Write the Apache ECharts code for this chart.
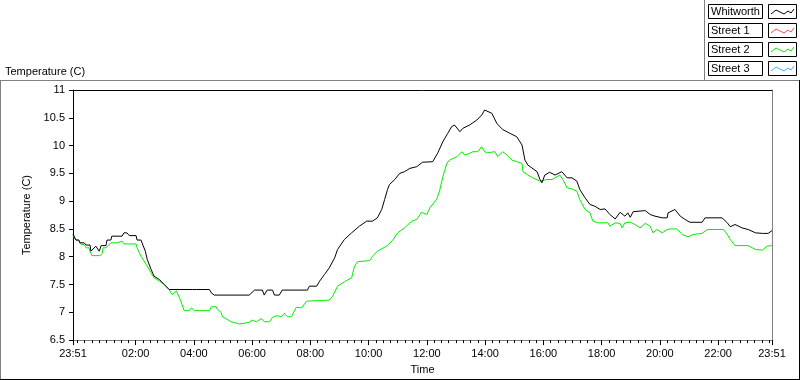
<!DOCTYPE html>
<html>
<head>
<meta charset="utf-8">
<script src="https://cdn.jsdelivr.net/npm/echarts@6/dist/echarts.min.js"></script>
<style>
  html, body { margin: 0; padding: 0; background: #fff; }
  #chart { width: 800px; height: 380px; }
</style>
</head>
<body>
<div id="chart"></div>
<script>
// minutes since 23:51, temperature (C)
const whitworth = [
  [0, 8.41], [4, 8.41], [6, 8.30], [12, 8.30], [14, 8.25], [23, 8.25], [27, 8.21], [35, 8.21],
  [37, 8.10], [41, 8.10], [47, 8.19], [54, 8.10], [58, 8.20], [68, 8.20], [70, 8.30], [78, 8.30],
  [80, 8.37], [101, 8.37], [105, 8.43], [111, 8.43], [116, 8.38], [130, 8.38], [132, 8.30], [140, 8.30],
  [144, 8.21], [149, 8.10], [153, 7.95], [161, 7.77], [167, 7.65], [178, 7.59], [188, 7.50], [198, 7.41],
  [246, 7.41], [250, 7.38], [254, 7.41], [281, 7.41], [285, 7.35], [291, 7.31], [363, 7.31], [367, 7.34],
  [374, 7.40], [390, 7.40], [394, 7.31], [400, 7.40], [411, 7.40], [415, 7.31], [425, 7.31], [431, 7.40],
  [483, 7.40], [487, 7.47], [502, 7.47], [508, 7.56], [518, 7.68], [528, 7.80], [539, 7.98], [545, 8.13],
  [559, 8.31], [574, 8.43], [590, 8.55], [605, 8.64], [617, 8.64], [627, 8.70], [636, 8.85], [642, 9.03],
  [648, 9.21], [652, 9.30], [663, 9.39], [673, 9.50], [683, 9.53], [694, 9.59], [708, 9.62], [720, 9.70],
  [741, 9.71], [751, 9.86], [762, 10.07], [772, 10.22], [780, 10.34], [786, 10.37], [797, 10.25], [803, 10.31],
  [817, 10.37], [832, 10.46], [842, 10.55], [848, 10.64], [863, 10.58], [873, 10.40], [885, 10.29], [900, 10.22],
  [914, 10.16], [925, 10.01], [931, 9.74], [937, 9.65], [956, 9.53], [962, 9.39], [966, 9.33], [972, 9.47],
  [982, 9.52], [993, 9.47], [1007, 9.53], [1018, 9.42], [1028, 9.42], [1038, 9.36], [1044, 9.21], [1055, 9.06],
  [1065, 8.94], [1075, 8.91], [1086, 8.85], [1096, 8.86], [1106, 8.76], [1117, 8.68], [1127, 8.80], [1137, 8.73],
  [1143, 8.79], [1148, 8.71], [1154, 8.81], [1179, 8.83], [1189, 8.76], [1199, 8.73], [1214, 8.70], [1224, 8.70],
  [1226, 8.79], [1240, 8.85], [1251, 8.73], [1261, 8.67], [1271, 8.62], [1296, 8.62], [1302, 8.70], [1337, 8.70],
  [1348, 8.61], [1354, 8.54], [1364, 8.58], [1378, 8.52], [1391, 8.49], [1406, 8.43], [1420, 8.42], [1432, 8.42],
  [1440, 8.47]
];

const street2 = [
  [0, 8.37], [4, 8.37], [6, 8.30], [12, 8.30], [17, 8.22], [23, 8.22], [27, 8.16], [33, 8.16],
  [35, 8.10], [39, 8.02], [56, 8.02], [60, 8.06], [62, 8.16], [68, 8.16], [72, 8.19], [78, 8.25],
  [91, 8.25], [95, 8.28], [101, 8.28], [105, 8.23], [130, 8.23], [132, 8.16], [140, 8.01], [151, 7.86],
  [161, 7.71], [167, 7.62], [178, 7.56], [188, 7.50], [198, 7.41], [204, 7.32], [213, 7.38], [215, 7.38],
  [221, 7.23], [229, 7.03], [240, 7.03], [244, 7.08], [250, 7.03], [264, 7.03], [266, 7.06], [270, 7.03],
  [281, 7.03], [285, 7.10], [295, 7.10], [297, 7.06], [301, 7.06], [305, 7.00], [308, 6.92], [312, 6.91],
  [326, 6.83], [343, 6.79], [363, 6.82], [369, 6.86], [378, 6.83], [388, 6.89], [394, 6.83], [405, 6.83],
  [411, 6.91], [421, 6.94], [429, 6.92], [435, 6.98], [442, 6.92], [450, 6.92], [460, 7.09], [471, 7.08],
  [481, 7.20], [528, 7.22], [535, 7.29], [545, 7.47], [559, 7.55], [574, 7.62], [580, 7.83], [586, 7.91],
  [611, 7.93], [617, 8.01], [627, 8.10], [646, 8.19], [658, 8.29], [669, 8.43], [683, 8.52], [698, 8.64],
  [708, 8.67], [718, 8.80], [729, 8.76], [735, 8.88], [749, 9.03], [755, 9.18], [762, 9.44], [770, 9.68],
  [776, 9.74], [791, 9.80], [801, 9.89], [807, 9.83], [817, 9.86], [824, 9.89], [834, 9.89], [842, 9.98],
  [848, 9.89], [854, 9.87], [869, 9.89], [875, 9.80], [885, 9.89], [894, 9.83], [904, 9.74], [914, 9.71],
  [925, 9.68], [927, 9.53], [937, 9.47], [947, 9.42], [962, 9.36], [976, 9.39], [987, 9.39], [1003, 9.47],
  [1009, 9.39], [1018, 9.24], [1028, 9.22], [1038, 9.18], [1044, 9.03], [1055, 8.85], [1065, 8.79], [1071, 8.64],
  [1081, 8.61], [1102, 8.61], [1106, 8.55], [1117, 8.61], [1127, 8.60], [1131, 8.52], [1137, 8.61], [1148, 8.62],
  [1158, 8.58], [1168, 8.52], [1179, 8.60], [1189, 8.55], [1195, 8.43], [1203, 8.49], [1214, 8.43], [1224, 8.49],
  [1230, 8.50], [1244, 8.50], [1255, 8.40], [1267, 8.36], [1277, 8.40], [1296, 8.42], [1307, 8.49], [1340, 8.49],
  [1348, 8.40], [1354, 8.31], [1364, 8.20], [1391, 8.20], [1406, 8.13], [1420, 8.12], [1430, 8.19], [1440, 8.20]
];

const legendNames = ['Whitworth', 'Street 1', 'Street 2', 'Street 3'];
const legendColors = ['#000000', '#ff4a4a', '#00ee00', '#3ab4ff'];
const tickLabels = ['23:51', '02:00', '04:00', '06:00', '08:00', '10:00', '12:00',
  '14:00', '16:00', '18:00', '20:00', '22:00', '23:51'];

const START = 23 * 60 + 51;
const SPAN = 1440;
const FONT = 'Liberation Sans';

const majorTicks = tickLabels.map((label, i) => {
  const [h, m] = label.split(':').map(Number);
  let d = (h * 60 + m - START + SPAN) % SPAN;
  if (i === tickLabels.length - 1 && d === 0) d = SPAN;
  return d;
});
// quarter-hour minor ticks
const minorTicks = [0];
for (let t = 9; t < SPAN; t += 15) minorTicks.push(t);
minorTicks.push(SPAN);

const chart = echarts.init(document.getElementById('chart'), null, { renderer: 'canvas' });

const legendItems = legendNames.map((name, i) => {
  const y = 4 + i * 19;
  return {
    type: 'group',
    children: [
      { type: 'rect', shape: { x: 708.5, y: y + 0.5, width: 54, height: 14 },
        style: { fill: '#fff', stroke: '#000', lineWidth: 1 } },
      { type: 'text', x: 711, y: y + 8,
        style: { text: name, font: '11px ' + FONT, fill: '#000', verticalAlign: 'middle' } },
      { type: 'rect', shape: { x: 768.5, y: y + 0.5, width: 28, height: 14 },
        style: { fill: '#fff', stroke: '#000', lineWidth: 1 } },
      { type: 'polyline',
        shape: { points: [[771, y + 10], [776, y + 6], [780, y + 8], [784, y + 10], [788, y + 7], [791, y + 9], [794, y + 5]] },
        style: { stroke: legendColors[i], lineWidth: 1, fill: null } }
    ]
  };
});

const option = {
  animation: false,
  backgroundColor: '#fff',
  grid: { left: 73, right: 28, top: 90, bottom: 39 },
  xAxis: [
    {
      type: 'value', min: 0, max: SPAN, position: 'bottom',
      name: 'Time', nameLocation: 'middle', nameGap: 23,
      nameTextStyle: { color: '#000', fontFamily: FONT, fontSize: 11 },
      axisLine: { show: true, onZero: false, lineStyle: { color: '#808080', width: 1 } },
      axisTick: { show: true, length: 5, customValues: majorTicks, lineStyle: { color: '#000' } },
      axisLabel: {
        customValues: majorTicks, margin: 8, color: '#000', fontFamily: FONT, fontSize: 11,
        showMinLabel: true, showMaxLabel: true,
        formatter: v => tickLabels[majorTicks.indexOf(v)]
      },
      splitLine: { show: false }
    },
    {
      type: 'value', min: 0, max: SPAN, position: 'bottom',
      axisLine: { show: false, onZero: false },
      axisTick: { show: true, length: 3, customValues: minorTicks, lineStyle: { color: '#000' } },
      axisLabel: { show: false },
      splitLine: { show: false }
    },
    {
      type: 'value', min: 0, max: SPAN, position: 'top',
      axisLine: { show: true, onZero: false, lineStyle: { color: '#000', width: 1 } },
      axisTick: { show: false }, axisLabel: { show: false }, splitLine: { show: false }
    }
  ],
  yAxis: [
    {
      type: 'value', min: 6.5, max: 11, interval: 0.5, position: 'left',
      name: 'Temperature (C)', nameLocation: 'middle', nameGap: 31, nameRotate: 90,
      nameTextStyle: { color: '#000', fontFamily: FONT, fontSize: 11 },
      axisLine: { show: true, onZero: false, lineStyle: { color: '#000', width: 1 } },
      axisTick: { show: true, length: 4, lineStyle: { color: '#000' } },
      axisLabel: { margin: 8, color: '#000', fontFamily: FONT, fontSize: 11 },
      splitLine: { show: false }
    },
    {
      type: 'value', min: 6.5, max: 11, interval: 0.5, position: 'right',
      axisLine: { show: true, onZero: false, lineStyle: { color: '#808080', width: 1 } },
      axisTick: { show: false }, axisLabel: { show: false }, splitLine: { show: false }
    }
  ],
  series: [
    {
      name: 'Street 2', type: 'line', data: street2, showSymbol: false,
      lineStyle: { color: legendColors[2], width: 1 }, itemStyle: { color: legendColors[2] }
    },
    {
      name: 'Whitworth', type: 'line', data: whitworth, showSymbol: false,
      lineStyle: { color: legendColors[0], width: 1 }, itemStyle: { color: legendColors[0] }
    }
  ],
  graphic: [
    { type: 'line', shape: { x1: 0, y1: 80.5, x2: 800, y2: 80.5 }, style: { stroke: '#808080', lineWidth: 1 } },
    { type: 'line', shape: { x1: 0.5, y1: 80, x2: 0.5, y2: 380 }, style: { stroke: '#808080', lineWidth: 1 } },
    { type: 'line', shape: { x1: 799.5, y1: 80, x2: 799.5, y2: 380 }, style: { stroke: '#000', lineWidth: 1 } },
    { type: 'line', shape: { x1: 0, y1: 379.5, x2: 800, y2: 379.5 }, style: { stroke: '#000', lineWidth: 1 } },
    { type: 'line', shape: { x1: 704.5, y1: 0, x2: 704.5, y2: 80 }, style: { stroke: '#808080', lineWidth: 1 } },
    { type: 'text', x: 5, y: 72,
      style: { text: 'Temperature (C)', font: '11px ' + FONT, fill: '#000', verticalAlign: 'middle' } },
    ...legendItems
  ]
};

chart.setOption(option);
</script>
</body>
</html>
